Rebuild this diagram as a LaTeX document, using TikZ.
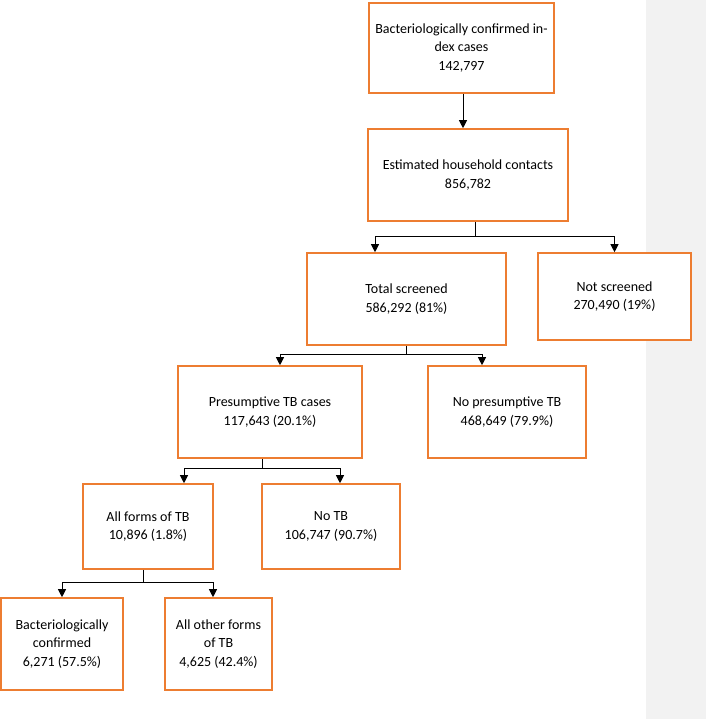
\documentclass[tikz,border=0pt]{standalone}
\usepackage{fontspec}
\setmainfont{Carlito}
\usepackage{tikz}
\usetikzlibrary{arrows.meta, positioning, calc}

\definecolor{boxorange}{HTML}{ED7D31}
\definecolor{stripgray}{HTML}{F2F2F2}

\begin{document}
\begin{tikzpicture}[
    x=1pt, y=-1pt,
    >={Triangle[length=8pt, width=8pt]},
    stage/.style={
        rectangle,
        draw=boxorange,
        line width=1.6pt,
        fill=white,
        align=center,
        inner sep=2pt,
        font=\fontsize{14}{18.5}\selectfont
    },
    flow/.style={
        ->,
        line width=1pt,
        black
    }
]

\useasboundingbox (0,0) rectangle (706,719);

% =============== FAIXA CINZA (direita) ===============
\fill[stripgray] (646,0) rectangle (706,719);

% =============== CASOS ÍNDICE E CONTATOS ===============
\node[stage, minimum width=185pt, minimum height=90pt] (index) at (461.5, 48)
    {Bacteriologically confirmed in-\\dex cases\\142,797};
\node[stage, minimum width=200pt, minimum height=92pt] (contacts) at (468, 175)
    {Estimated household contacts\\856,782};

% =============== TRIAGEM ===============
\node[stage, minimum width=199pt, minimum height=92pt] (screened) at (406.5, 299)
    {Total screened\\586,292 (81\%)};
\node[stage, minimum width=153pt, minimum height=87pt] (notscreened) at (614.5, 296.5)
    {Not screened\\270,490 (19\%)};

% =============== CASOS PRESUNTIVOS ===============
\node[stage, minimum width=184pt, minimum height=92pt] (presump) at (270, 412)
    {Presumptive TB cases\\117,643 (20.1\%)};
\node[stage, minimum width=158pt, minimum height=92pt] (nopresump) at (507, 412)
    {No presumptive TB\\468,649 (79.9\%)};

% =============== DIAGNÓSTICO ===============
\node[stage, minimum width=130pt, minimum height=85pt] (alltb) at (148, 526.5)
    {All forms of TB\\10,896 (1.8\%)};
\node[stage, minimum width=138pt, minimum height=85pt] (notb) at (331, 526.5)
    {No TB\\106,747 (90.7\%)};

\node[stage, minimum width=122pt, minimum height=92pt] (bactconf) at (62, 644)
    {Bacteriologically\\confirmed\\6,271 (57.5\%)};
\node[stage, minimum width=107pt, minimum height=92pt] (othertb) at (218.5, 644)
    {All other forms\\of TB\\4,625 (42.4\%)};

% =============== LIGAÇÕES ===============
\draw[flow] ([xshift=1.5pt]index.south) -- ([xshift=1.5pt]index.south |- contacts.north);

\coordinate (split1) at ($(contacts.south)+(7,15)$);
\draw[flow] ([xshift=7pt]contacts.south) -- (split1) -| ([xshift=-31.5pt]screened.north);
\draw[flow] (split1) -| (notscreened.north);

\coordinate (split2) at ($(screened.south)+(0,9)$);
\draw[flow] (screened.south) -- (split2) -| ([xshift=10pt]presump.north);
\draw[flow] (split2) -| ([xshift=-25pt]nopresump.north);

\coordinate (split3) at ($(presump.south)+(-8,10)$);
\draw[flow] ([xshift=-8pt]presump.south) -- (split3) -| ([xshift=36pt]alltb.north);
\draw[flow] (split3) -| ([xshift=9pt]notb.north);

\coordinate (split4) at ($(alltb.south)+(-5,13)$);
\draw[flow] ([xshift=-5pt]alltb.south) -- (split4) -| (bactconf.north);
\draw[flow] (split4) -| ([xshift=-5.5pt]othertb.north);

\end{tikzpicture}
\end{document}
